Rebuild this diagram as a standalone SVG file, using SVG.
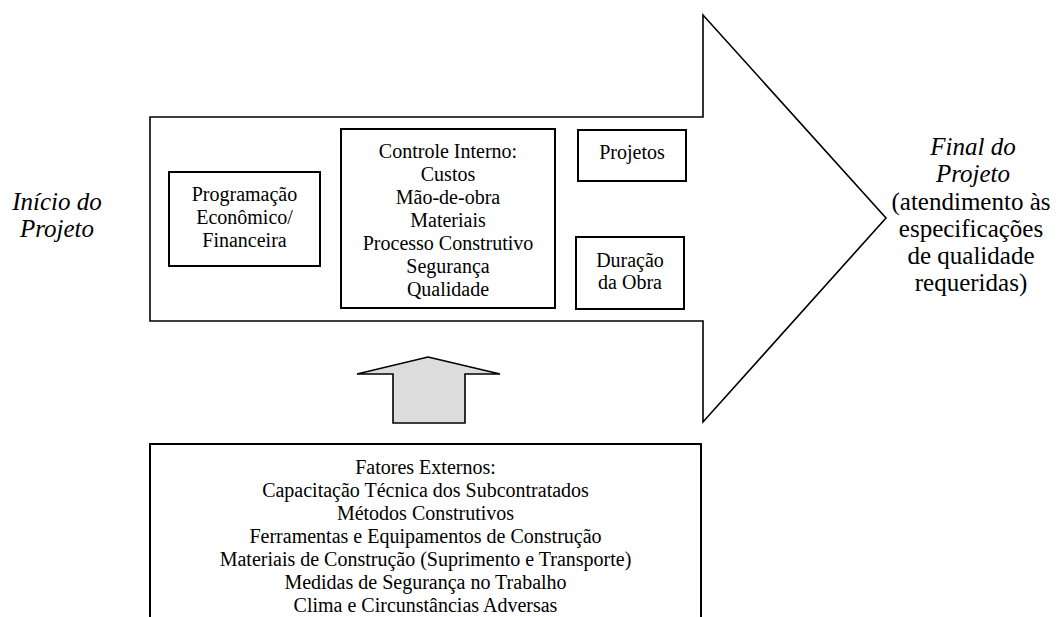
<svg xmlns="http://www.w3.org/2000/svg" width="1057" height="617" viewBox="0 0 1057 617">
  <style>
    text { fill: #000; text-anchor: middle; }
    .box { font-size: 20px; }
    .end { font-size: 25px; }
    .it { font-style: italic; }
    .frame { fill: #fff; stroke: #000; stroke-width: 2; }
    .shape { fill: #fff; stroke: #000; stroke-width: 1.6; stroke-linejoin: miter; }
  </style>
  <rect width="1057" height="617" fill="#fff"/>

  <g font-family="Liberation Serif, Times New Roman, DejaVu Serif, serif">
  <!-- main process arrow -->
  <g id="process-arrow">
    <polygon class="shape" points="150,117 703,117 703,15 886,218 703,422 703,321 150,321"/>
  </g>

  <g id="programacao">
    <rect class="frame" x="169" y="172" width="151" height="94"/>
    <text class="box" x="244.5" y="201">Programação</text>
    <text class="box" x="244.5" y="224">Econômico/</text>
    <text class="box" x="244.5" y="247">Financeira</text>
  </g>

  <g id="controle-interno">
    <rect class="frame" x="341" y="129" width="214" height="179"/>
    <text class="box" x="448" y="158">Controle Interno:</text>
    <text class="box" x="448" y="181">Custos</text>
    <text class="box" x="448" y="204">Mão-de-obra</text>
    <text class="box" x="448" y="227">Materiais</text>
    <text class="box" x="448" y="250">Processo Construtivo</text>
    <text class="box" x="448" y="273">Segurança</text>
    <text class="box" x="448" y="296">Qualidade</text>
  </g>

  <g id="projetos">
    <rect class="frame" x="578" y="130" width="108" height="51"/>
    <text class="box" x="632" y="159">Projetos</text>
  </g>

  <g id="duracao">
    <rect class="frame" x="576" y="237" width="108" height="72"/>
    <text class="box" x="630" y="267">Duração</text>
    <text class="box" x="630" y="289">da Obra</text>
  </g>

  <g id="inicio">
    <text class="end it" x="57" y="210">Início do</text>
    <text class="end it" x="57" y="237">Projeto</text>
  </g>

  <g id="final">
    <text class="end it" x="973" y="155">Final do</text>
    <text class="end it" x="973" y="182">Projeto</text>
    <text class="end" x="971" y="210">(atendimento às</text>
    <text class="end" x="971" y="237">especificações</text>
    <text class="end" x="971" y="264">de qualidade</text>
    <text class="end" x="971" y="291">requeridas)</text>
  </g>

  <!-- external factors pushing into the process -->
  <g id="connectors">
    <polygon points="428,357 500,374 465,374 465,423 393,423 393,374 357,374" fill="#dcdcdc" stroke="#000" stroke-width="1.6"/>
  </g>

  <g id="fatores-externos">
    <path d="M150,625 V444 H701 V625" fill="#fff" stroke="#000" stroke-width="2"/>
    <text class="box" x="425.5" y="474">Fatores Externos:</text>
    <text class="box" x="425.5" y="497">Capacitação Técnica dos Subcontratados</text>
    <text class="box" x="425.5" y="520">Métodos Construtivos</text>
    <text class="box" x="425.5" y="543">Ferramentas e Equipamentos de Construção</text>
    <text class="box" x="425.5" y="566">Materiais de Construção (Suprimento e Transporte)</text>
    <text class="box" x="425.5" y="589">Medidas de Segurança no Trabalho</text>
    <text class="box" x="425.5" y="612">Clima e Circunstâncias Adversas</text>
  </g>
  </g>
</svg>
